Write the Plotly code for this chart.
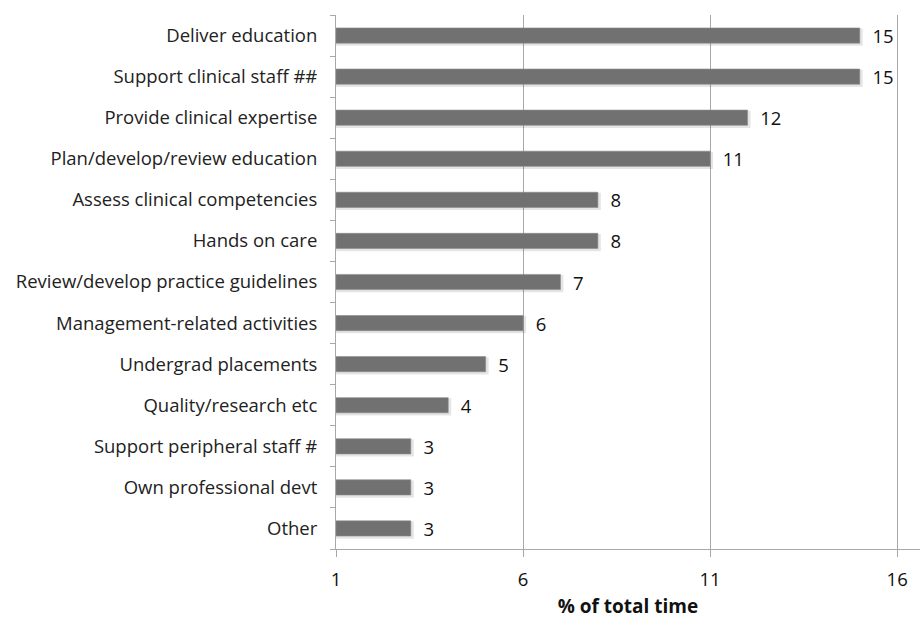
import plotly.graph_objects as go

categories = ["Deliver education", "Support clinical staff ##", "Provide clinical expertise",
              "Plan/develop/review education", "Assess clinical competencies", "Hands on care",
              "Review/develop practice guidelines", "Management-related activities",
              "Undergrad placements", "Quality/research etc", "Support peripheral staff #",
              "Own professional devt", "Other"]
values = [15, 15, 12, 11, 8, 8, 7, 6, 5, 4, 3, 3, 3]
x_ticks = [1, 6, 11, 16]

cats = categories[::-1]
vals = values[::-1]
base = 1
FONT = "Open Sans, sans-serif"

fig = go.Figure()
# soft shadow below the bar
fig.add_trace(go.Bar(
    y=cats, x=[v - base + 0.08 for v in vals], base=base, orientation="h",
    marker=dict(color="rgba(0,0,0,0.10)", line=dict(width=0)),
    width=0.42, offset=-0.25, hoverinfo="skip", showlegend=False,
))
fig.add_trace(go.Bar(
    y=cats, x=[v - base for v in vals], base=base, orientation="h",
    marker=dict(color="#717171", line=dict(color="#8c8c8c", width=0.6)),
    width=0.37, offset=-0.185,
    text=[str(v) for v in vals], texttemplate="  %{text}", textposition="outside",
    constraintext="none",
    textfont=dict(family=FONT, size=18.5, color="#111111"),
    cliponaxis=False, showlegend=False,
))

fig.update_layout(
    width=920, height=621,
    margin=dict(l=336, r=0, t=15, b=72),
    plot_bgcolor="white", paper_bgcolor="white",
    barmode="overlay",
    font=dict(family=FONT, size=16, color="#222222"),
)
fig.update_xaxes(
    range=[1, 16.61], tickvals=x_ticks, ticktext=[str(t) for t in x_ticks],
    showgrid=True, gridcolor="#a8a8a8", gridwidth=1,
    showline=True, linecolor="#a8a8a8", linewidth=1,
    ticks="outside", ticklen=7, tickcolor="#a8a8a8",
    tickfont=dict(size=18.5, color="#111111"), ticklabelstandoff=7,
    zeroline=False,
    title=dict(text="<b>% of total time</b>", font=dict(size=19, color="#111111"), standoff=9),
)
fig.update_yaxes(
    categoryorder="array", categoryarray=cats,
    range=[-0.5, 12.5],
    showline=True, linecolor="#a8a8a8", linewidth=1,
    ticks="outside", ticklen=5, tickcolor="#a8a8a8", tickson="boundaries",
    showgrid=False, ticklabelstandoff=14,
    tickfont=dict(size=18.5, color="#222222"),
)

fig.write_html("out.html")
